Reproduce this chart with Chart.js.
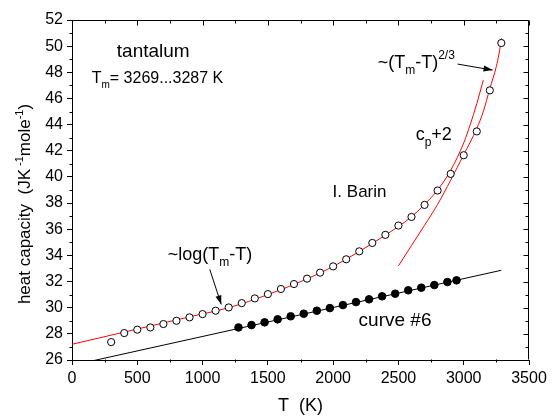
<!DOCTYPE html>
<html>
<head>
<meta charset="utf-8">
<script src="https://cdn.jsdelivr.net/npm/chart.js@4.4.1/dist/chart.umd.min.js"></script>
<style>
  html, body { margin: 0; padding: 0; background: #fff; }
  .chart-container { position: relative; width: 552px; height: 417px; }
</style>
</head>
<body>
<div class="chart-container"><canvas id="cpChart"></canvas></div>
<script>
// I. Barin data (open circles)
const barinT  = [300, 400, 500, 600, 700, 800, 900, 1000, 1100, 1200, 1300, 1400, 1500, 1600, 1700, 1800,
                 1900, 2000, 2100, 2200, 2300, 2400, 2500, 2600, 2700, 2800, 2900, 3000, 3100, 3200, 3288];
const barinCp = [27.37, 28.06, 28.32, 28.49, 28.75, 29.0, 29.26, 29.51, 29.77, 30.02, 30.35, 30.71, 31.04, 31.43, 31.81, 32.22,
                 32.68, 33.16, 33.70, 34.31, 34.95, 35.57, 36.28, 36.94, 37.86, 38.96, 40.23, 41.66, 43.48, 46.62, 50.24];

// curve #6 (filled circles)
const curve6T  = [1275, 1375, 1475, 1575, 1675, 1775, 1875, 1975, 2075, 2175, 2275, 2375, 2475, 2575, 2675, 2775, 2875, 2945];
const curve6Cp = [28.49, 28.67, 28.88, 29.11, 29.34, 29.54, 29.77, 29.97, 30.2, 30.43, 30.64, 30.87, 31.07, 31.33, 31.53, 31.73, 31.96, 32.09];

// red curve ~log(Tm-T)
const logFitT  = [0, 300, 600, 900, 1200, 1500, 1800, 2000, 2200, 2400, 2600, 2700, 2800, 2900, 3000, 3050, 3100, 3150];
const logFitCp = [27.2, 27.9, 28.6, 29.3, 30.0, 31.0, 32.2, 33.15, 34.3, 35.55, 36.95, 37.9, 39.0, 40.5, 42.6, 44.0, 45.6, 47.4];

// red curve cp+2, ~(Tm-T)^2/3
const powFitT  = [2500, 2600, 2700, 2800, 2900, 3000, 3100, 3150, 3200, 3250, 3270, 3290];
const powFitCp = [33.2, 34.75, 36.3, 37.9, 39.75, 41.7, 43.7, 45.0, 46.75, 48.45, 49.4, 50.6];

// black straight line through curve #6
const lineT  = [0, 3288];
const lineCp = [25.59, 32.86];

const FONT = '"Liberation Sans", Arial, sans-serif';
const pts = (xs, ys) => xs.map((x, i) => ({ x: x, y: ys[i] }));

function richWidth(ctx, parts) {
  let w = 0;
  parts.forEach(([t, size]) => { ctx.font = size + 'px ' + FONT; w += ctx.measureText(t).width; });
  return w;
}
function richText(ctx, x, y, parts) {
  let cx = x;
  parts.forEach(([t, size, dy]) => {
    ctx.font = size + 'px ' + FONT;
    ctx.fillText(t, cx, y + dy);
    cx += ctx.measureText(t).width;
  });
}
function arrow(ctx, x1, y1, x2, y2) {
  ctx.beginPath(); ctx.moveTo(x1, y1); ctx.lineTo(x2, y2); ctx.stroke();
  const a = Math.atan2(y2 - y1, x2 - x1), L = 9, W = 3;
  ctx.beginPath();
  ctx.moveTo(x2, y2);
  ctx.lineTo(x2 - L * Math.cos(a) + W * Math.sin(a), y2 - L * Math.sin(a) - W * Math.cos(a));
  ctx.lineTo(x2 - L * Math.cos(a) - W * Math.sin(a), y2 - L * Math.sin(a) + W * Math.cos(a));
  ctx.closePath(); ctx.fill();
}

// frame, minor / mirrored ticks, labels
const decor = {
  id: 'decor',
  afterDraw(chart) {
    const ctx = chart.ctx, xs = chart.scales.x, ys = chart.scales.y;
    const { left, right, top, bottom } = chart.chartArea;
    const L = Math.round(left) + 0.5, R = Math.round(right) - 0.5;
    const T = Math.round(top) + 0.5, B = Math.round(bottom) - 0.5;
    ctx.save();
    ctx.strokeStyle = '#000'; ctx.fillStyle = '#000'; ctx.lineWidth = 1;
    ctx.beginPath();
    ctx.moveTo(L, T); ctx.lineTo(R, T); ctx.lineTo(R, B);
    for (let v = 0; v <= 3500; v += 250) {
      const p = Math.round(xs.getPixelForValue(v)) + 0.5, major = v % 500 === 0;
      ctx.moveTo(p, T); ctx.lineTo(p, T + (major ? 5 : 3));
      if (!major) { ctx.moveTo(p, B); ctx.lineTo(p, B + 3); }
    }
    for (let v = 26; v <= 52; v += 1) {
      const p = Math.round(ys.getPixelForValue(v)) + 0.5, major = v % 2 === 0;
      ctx.moveTo(R, p); ctx.lineTo(R - (major ? 5 : 3), p);
      if (!major) { ctx.moveTo(L, p); ctx.lineTo(L - 3, p); }
    }
    ctx.stroke();

    const px = (t) => xs.getPixelForValue(t), py = (c) => ys.getPixelForValue(c);
    ctx.textBaseline = 'alphabetic'; ctx.textAlign = 'left';
    richText(ctx, px(343), py(49.17), [['tantalum', 19, 0]]);
    richText(ctx, px(151), py(47.18), [['T', 16, 0], ['m', 10, 5], ['= 3269...3287 K', 16, 0]]);
    richText(ctx, px(2341), py(48.32), [['~(T', 18, 0], ['m', 12, 6], ['-T)', 18, 0], ['2/3', 12, -9]]);
    richText(ctx, px(2632), py(42.8), [['c', 18, 0], ['p', 12, 6], ['+2', 18, 0]]);
    richText(ctx, px(1996), py(38.45), [['I. Barin', 17, 0]]);
    richText(ctx, px(733), py(33.62), [['~log(T', 18, 0], ['m', 12, 6], ['-T)', 18, 0]]);
    richText(ctx, px(2195), py(28.57), [['curve #6', 19, 0]]);
    arrow(ctx, px(2953), py(48.63), px(3221), py(48.17));
    arrow(ctx, px(1055), py(32.93), px(1143), py(30.25));

    // axis titles
    const xt = [['T  (K)', 18, 0]];
    richText(ctx, (left + right) / 2 - richWidth(ctx, xt) / 2, 411, xt);
    const yt = [['heat capacity  (JK', 17, 0], [' -1', 11, -7], ['mole', 17, 0], ['-1', 11, -7], [')', 17, 0]];
    ctx.translate(30, 204);
    ctx.rotate(-Math.PI / 2);
    richText(ctx, -richWidth(ctx, yt) / 2, 0, yt);
    ctx.restore();
  }
};

const ctx = document.getElementById('cpChart').getContext('2d');
new Chart(ctx, {
  type: 'scatter',
  data: {
    datasets: [
      { label: 'I. Barin', data: pts(barinT, barinCp), pointStyle: 'circle', pointRadius: 3.6,
        borderColor: '#000', backgroundColor: '#fff', borderWidth: 1, order: 0 },
      { label: 'curve #6', data: pts(curve6T, curve6Cp), pointStyle: 'circle', pointRadius: 3.8,
        borderColor: '#000', backgroundColor: '#000', borderWidth: 1, order: 0 },
      { label: 'log fit', data: pts(logFitT, logFitCp), showLine: true, pointRadius: 0,
        borderColor: '#ff0000', borderWidth: 1, cubicInterpolationMode: 'monotone', order: 1 },
      { label: 'cp+2', data: pts(powFitT, powFitCp), showLine: true, pointRadius: 0,
        borderColor: '#ff0000', borderWidth: 1, cubicInterpolationMode: 'monotone', order: 1 },
      { label: 'line', data: pts(lineT, lineCp), showLine: true, pointRadius: 0,
        borderColor: '#000', borderWidth: 1, order: 1 }
    ]
  },
  options: {
    responsive: true,
    maintainAspectRatio: false,
    animation: false,
    devicePixelRatio: 1,
    layout: { padding: { top: 20, right: 23, left: 0, bottom: 0 } },
    plugins: { legend: { display: false }, tooltip: { enabled: false } },
    scales: {
      x: {
        type: 'linear', min: 0, max: 3500,
        afterFit: (s) => { s.height = 57; },
        ticks: { stepSize: 500, color: '#000', padding: 4, maxRotation: 0,
                 callback: (v) => String(v), font: { family: FONT, size: 16 } },
        grid: { drawOnChartArea: false, drawTicks: true, tickLength: 5, color: '#000' },
        border: { display: true, color: '#000', width: 1 }
      },
      y: {
        type: 'linear', min: 26, max: 52,
        afterFit: (s) => { s.width = 72; },
        ticks: { stepSize: 2, color: '#000', padding: 4,
                 callback: (v) => String(v), font: { family: FONT, size: 16 } },
        grid: { drawOnChartArea: false, drawTicks: true, tickLength: 5, color: '#000' },
        border: { display: true, color: '#000', width: 1 }
      }
    }
  },
  plugins: [decor]
});
</script>
</body>
</html>
